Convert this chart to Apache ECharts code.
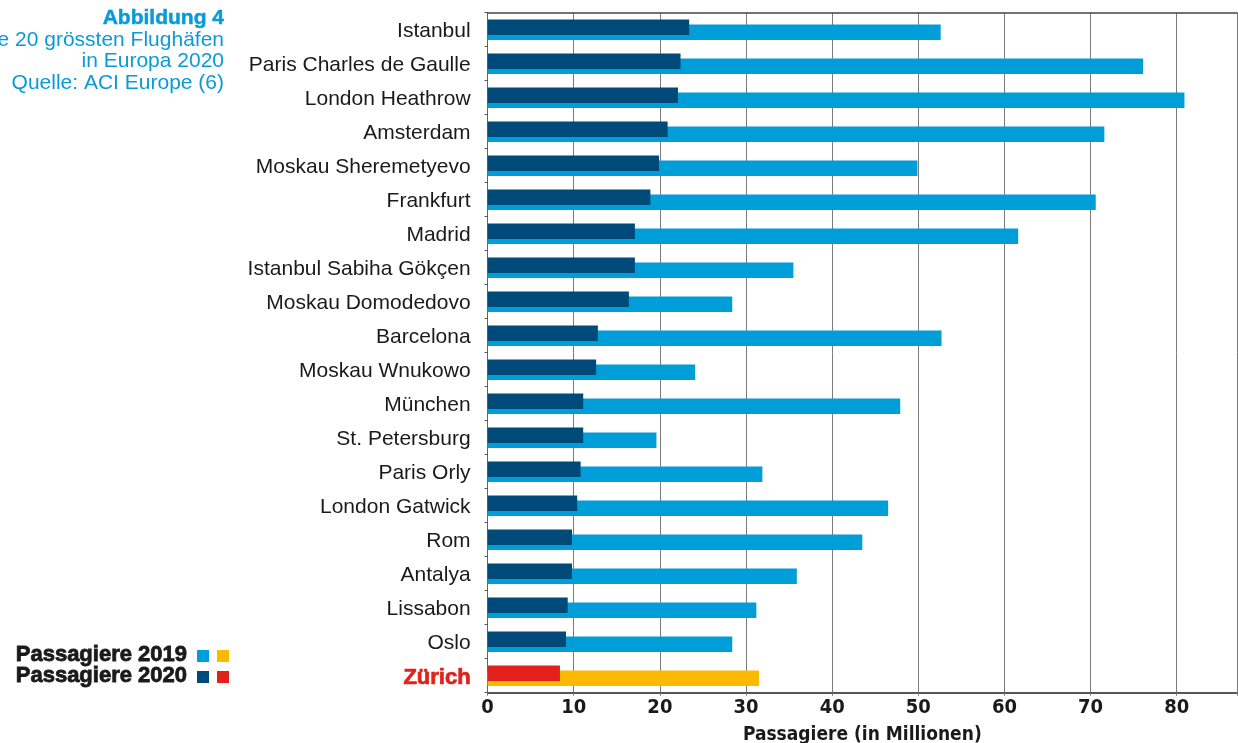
<!DOCTYPE html>
<html><head><meta charset="utf-8">
<script src="https://cdn.jsdelivr.net/npm/echarts@6/dist/echarts.min.js"></script>
<style>html,body{margin:0;padding:0;background:#fff}#c{width:1238px;height:743px}</style>
</head><body><div id="c"></div>
<script>
const categories = ["Istanbul","Paris Charles de Gaulle","London Heathrow","Amsterdam","Moskau Sheremetyevo","Frankfurt","Madrid","Istanbul Sabiha Gökçen","Moskau Domodedovo","Barcelona","Moskau Wnukowo","München","St. Petersburg","Paris Orly","London Gatwick","Rom","Antalya","Lissabon","Oslo","Zürich"];
const pax2019 = [52.6,76.1,80.9,71.6,49.9,70.6,61.6,35.5,28.4,52.7,24.1,47.9,19.6,31.9,46.5,43.5,35.9,31.2,28.4,31.5];
const pax2020 = [23.4,22.4,22.1,20.9,19.9,18.9,17.1,17.1,16.4,12.8,12.6,11.1,11.1,10.8,10.4,9.8,9.8,9.3,9.1,8.4];
const xTicks = [0,10,20,30,40,50,60,70,80];

const C19 = '#009ed9', C20 = '#004a7a', CZ19 = '#fbb900', CZ20 = '#e2211c', TITLE = '#0a9ad8';
const highlight = 'Zürich';
const FONT = '"Liberation Sans", Arial, Helvetica, sans-serif';
const FONT_C = '"Liberation Sans Narrow", "DejaVu Sans Condensed", "Liberation Sans", sans-serif';

const d19 = pax2019.map((v,i)=> categories[i]===highlight ? {value:v,itemStyle:{color:CZ19}} : v);
const d20 = pax2020.map((v,i)=> categories[i]===highlight ? {value:v,itemStyle:{color:CZ20}} : v);

const chart = echarts.init(document.getElementById('c'), null, {renderer:'canvas'});
chart.setOption({
  animation:false,
  backgroundColor:'#fff',
  grid:{left:487.6, right:1, top:12.7, bottom:50.3, containLabel:false, outerBoundsMode:'none'},
  xAxis:[{
    type:'value', min:0, max:87, interval:10,
    axisLine:{show:true, lineStyle:{color:'#222', width:1.5}},
    axisTick:{show:true, length:3, lineStyle:{color:'#777'}},
    splitLine:{show:true, lineStyle:{color:'#7a7a7a', width:1}},
    axisLabel:{margin:5, color:'#1a1a1a', fontFamily:FONT_C, fontWeight:'bold', fontSize:20,
      formatter:v=> xTicks.indexOf(v)>=0 ? String(v) : ''},
    name:'Passagiere (in Millionen)', nameLocation:'middle', nameGap:33,
    nameTextStyle:{color:'#1a1a1a', fontFamily:FONT_C, fontWeight:'bold', fontSize:19}
  },{
    type:'value', position:'top', min:0, max:87, interval:10,
    axisLine:{show:true, lineStyle:{color:'#444', width:1.5}},
    axisTick:{show:false}, axisLabel:{show:false}, splitLine:{show:false}
  }],
  yAxis:{
    type:'category', data:categories, inverse:true,
    axisLine:{show:true, lineStyle:{color:'#666', width:1}},
    axisTick:{show:true, length:3, lineStyle:{color:'#555'}},
    axisLabel:{margin:17, fontFamily:FONT, fontSize:21, color:'#1a1a1a', padding:[4,0,0,0],
      formatter:v=> v===highlight ? '{z|'+v+'}' : v,
      rich:{z:{color:CZ20, fontWeight:'bold', fontSize:22, fontFamily:FONT, textBorderColor:CZ20, textBorderWidth:0.7}}}
  },
  series:[
    {name:'Passagiere 2020', type:'bar', data:d20, barWidth:15.5, barGap:'-68%', z:3,
      itemStyle:{color:C20}},
    {name:'Passagiere 2019', type:'bar', data:d19, barWidth:15.5, barGap:'-68%', z:2,
      itemStyle:{color:C19}}
  ],
  graphic:[
    {type:'text', x:224, y:8, style:{text:'Abbildung 4', textAlign:'right', fill:TITLE, font:'bold 21px '+FONT, stroke:TITLE, lineWidth:0.5}},
    {type:'text', x:224, y:29.5, style:{text:'Die 20 grössten Flughäfen', textAlign:'right', fill:TITLE, font:'21px '+FONT}},
    {type:'text', x:224, y:51, style:{text:'in Europa 2020', textAlign:'right', fill:TITLE, font:'21px '+FONT}},
    {type:'text', x:224, y:72.5, style:{text:'Quelle: ACI Europe (6)', textAlign:'right', fill:TITLE, font:'21px '+FONT}},
    {type:'text', x:187, y:644, style:{text:'Passagiere 2019', textAlign:'right', fill:'#1a1a1a', font:'bold 22px '+FONT, stroke:'#1a1a1a', lineWidth:0.8}},
    {type:'text', x:187, y:665, style:{text:'Passagiere 2020', textAlign:'right', fill:'#1a1a1a', font:'bold 22px '+FONT, stroke:'#1a1a1a', lineWidth:0.8}},
    {type:'rect', shape:{x:197,y:650,width:12,height:12}, style:{fill:C19}},
    {type:'rect', shape:{x:217,y:650,width:12,height:12}, style:{fill:CZ19}},
    {type:'rect', shape:{x:197,y:671,width:12,height:12}, style:{fill:C20}},
    {type:'rect', shape:{x:217,y:671,width:12,height:12}, style:{fill:CZ20}}
  ]
});
</script></body></html>
